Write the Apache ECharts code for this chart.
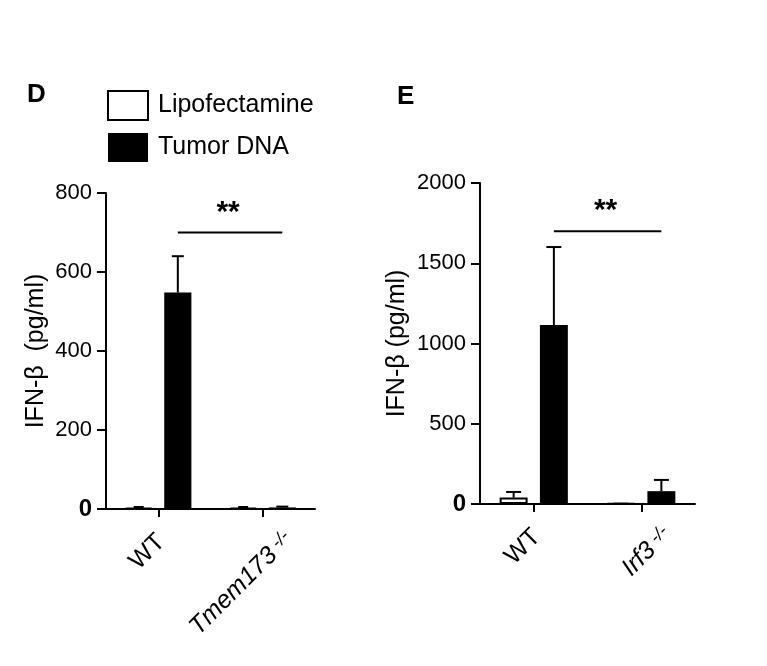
<!DOCTYPE html>
<html><head><meta charset="utf-8">
<script src="https://cdn.jsdelivr.net/npm/echarts@6/dist/echarts.min.js"></script>
<style>html,body{margin:0;padding:0;background:#fff}#c{width:767px;height:666px}</style>
</head><body><div id="c"></div>
<script>
// ---- data ----
const catsD = ['WT', 'Tmem173'];
const lipoD = [3, 3];
const lipoDErr = [2, 2];
const tumorD = [548, 4];
const tumorDErr = [92, 2];
const catsE = ['WT', 'Irf3'];
const lipoE = [40, 2];
const lipoEErr = [35, 0];
const tumorE = [1115, 80];
const tumorEErr = [486, 70];
const sigD = [0, 700, 1];
const sigE = [0, 1700, 1];
const seriesNames = ['Lipofectamine', 'Tumor DNA'];
const yNameD = 'IFN-β  (pg/ml)';
const yNameE = 'IFN-β (pg/ml)';

const FONT = 'Liberation Sans, Arial, Helvetica, sans-serif';
const BW = 0.26, GAP = 0.44;
const OFF = BW * (1 + GAP) / 2;

function errItem(sign, cap) {
  return function (params, api) {
    const bw = api.size([1, 0])[0];
    const p0 = api.coord([api.value(0), api.value(1)]);
    const p1 = api.coord([api.value(0), api.value(1) + api.value(2)]);
    const x = p0[0] + sign * OFF * bw;
    const st = { stroke: '#000', lineWidth: 2 };
    return { type: 'group', children: [
      { type: 'line', shape: { x1: x, y1: p0[1], x2: x, y2: p1[1] }, style: st },
      { type: 'line', shape: { x1: x - cap / 2, y1: p1[1], x2: x + cap / 2, y2: p1[1] }, style: st }
    ]};
  };
}
function sigItem(params, api) {
  const bw = api.size([1, 0])[0];
  const a = api.coord([api.value(0), api.value(1)]);
  const b = api.coord([api.value(2), api.value(1)]);
  const x1 = a[0] + OFF * bw, x2 = b[0] + OFF * bw;
  return { type: 'group', children: [
    { type: 'line', shape: { x1: x1, y1: a[1], x2: x2, y2: a[1] }, style: { stroke: '#000', lineWidth: 2 } },
    { type: 'text', style: { text: '**', x: (x1 + x2) / 2 - 2, y: a[1] - 5, align: 'center', verticalAlign: 'bottom',
      font: 'bold 30px ' + FONT, fill: '#000' } }
  ]};
}
function zeroFmt(v) { return v === 0 ? '{b|0}' : String(v); }
function xFmt(v) { return v === 'WT' ? v : '{i|' + v + '}{s|-/-}'; }
function xData(cats) {
  return cats.map(c => c === 'WT' ? { value: c } : { value: c, textStyle: { padding: [30, -22, 0, 0] } });
}

function yAxis(grid, max, interval, gap, name) {
  return {
    type: 'value', gridIndex: grid, min: 0, max: max, interval: interval,
    name: name, nameLocation: 'middle', nameGap: gap,
    nameTextStyle: { fontFamily: FONT, fontSize: 25, color: '#000' },
    splitLine: { show: false },
    axisLine: { show: true, lineStyle: { color: '#000', width: 2 } },
    axisTick: { show: true, length: 9, lineStyle: { color: '#000', width: 2 } },
    axisLabel: { formatter: zeroFmt, margin: 14, fontFamily: FONT, fontSize: 22, color: '#000',
      rich: { b: { fontWeight: 'bold', fontFamily: FONT, fontSize: 24, color: '#000' } } }
  };
}
function xAxis(grid, cats) {
  return {
    type: 'category', gridIndex: grid, data: xData(cats),
    axisLine: { show: true, lineStyle: { color: '#000', width: 2 } },
    axisTick: { show: true, alignWithLabel: true, length: 8, lineStyle: { color: '#000', width: 2 } },
    axisLabel: { rotate: 45, margin: 32, padding: [0, -4, 0, 0], formatter: xFmt, fontFamily: FONT, fontSize: 25, color: '#000',
      rich: { i: { fontStyle: 'italic', fontFamily: FONT, fontSize: 25, lineHeight: 25, verticalAlign: 'bottom', color: '#000' },
              s: { fontStyle: 'italic', fontFamily: FONT, fontSize: 18, lineHeight: 18, verticalAlign: 'top',
                   padding: [0, 0, 22, 5], color: '#000' } } }
  };
}
const whiteStyle = { color: '#fff', borderColor: '#000', borderWidth: 2 };
const blackStyle = { color: '#000', borderColor: '#000', borderWidth: 0 };

function barSeries(name, xi, vals, style) {
  return { type: 'bar', name: name, xAxisIndex: xi, yAxisIndex: xi, data: vals,
    barWidth: (BW * 100) + '%', barGap: (GAP * 100) + '%', itemStyle: style, silent: true, animation: false };
}
function errSeries(xi, vals, errs, sign, cap) {
  return { type: 'custom', name: 'err', xAxisIndex: xi, yAxisIndex: xi, renderItem: errItem(sign, cap),
    encode: { x: 0, y: 1 }, data: vals.map((v, i) => [i, v, errs[i]]), z: 5, silent: true, animation: false };
}
function sigSeries(xi, sig) {
  return { type: 'custom', name: 'sig', xAxisIndex: xi, yAxisIndex: xi, renderItem: sigItem,
    encode: { x: 0, y: 1 }, data: [sig], z: 5, silent: true, animation: false };
}

const chart = echarts.init(document.getElementById('c'), null, { renderer: 'canvas' });
chart.setOption({
  backgroundColor: '#fff',
  animation: false,
  title: [
    { text: 'D', left: 27, top: 82, padding: 0, textStyle: { fontFamily: FONT, fontSize: 26, fontWeight: 'bold', color: '#000' } },
    { text: 'E', left: 397, top: 84, padding: 0, textStyle: { fontFamily: FONT, fontSize: 26, fontWeight: 'bold', color: '#000' } }
  ],
  legend: {
    orient: 'vertical', left: 107, top: 90, padding: 0, itemWidth: 40, itemHeight: 29, itemGap: 12,
    icon: 'rect', selectedMode: false,
    textStyle: { fontFamily: FONT, fontSize: 25, color: '#000', padding: [0, 0, 0, 5] },
    data: [
      { name: seriesNames[0], itemStyle: whiteStyle },
      { name: seriesNames[1], itemStyle: blackStyle }
    ]
  },
  grid: [
    { left: 106, right: 452, top: 193, bottom: 157 },
    { left: 480, right: 72, top: 183, bottom: 162 }
  ],
  xAxis: [xAxis(0, catsD), xAxis(1, catsE)],
  yAxis: [yAxis(0, 800, 200, 57, yNameD), yAxis(1, 2000, 500, 70, yNameE)],
  series: [
    barSeries(seriesNames[0], 0, lipoD, whiteStyle),
    barSeries(seriesNames[1], 0, tumorD, blackStyle),
    barSeries(seriesNames[0], 1, lipoE, whiteStyle),
    barSeries(seriesNames[1], 1, tumorE, blackStyle),
    errSeries(0, lipoD, lipoDErr, -1, 10),
    errSeries(0, tumorD, tumorDErr, 1, 12),
    errSeries(1, lipoE, lipoEErr, -1, 15),
    errSeries(1, tumorE, tumorEErr, 1, 15),
    sigSeries(0, sigD),
    sigSeries(1, sigE)
  ]
});
</script></body></html>
